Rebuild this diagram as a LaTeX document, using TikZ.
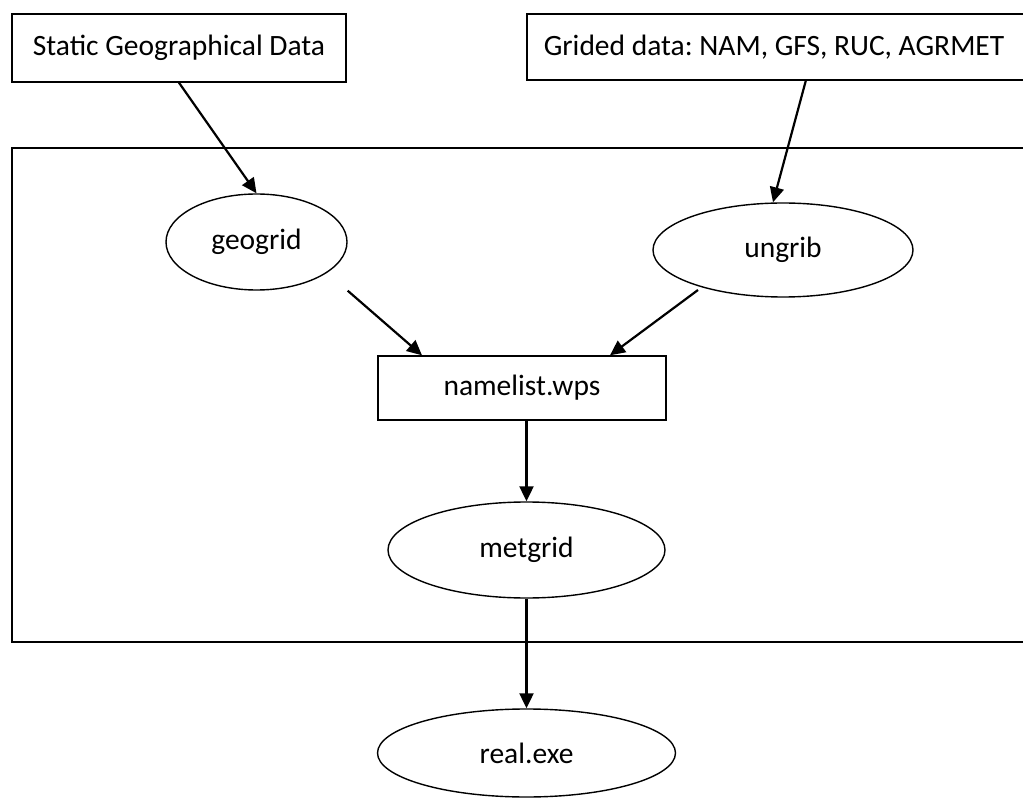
\documentclass[tikz,border=0pt]{standalone}
\usepackage{fontspec}
\setmainfont{Carlito}
\frenchspacing
\usetikzlibrary{shapes.geometric,arrows.meta}
\begin{document}
\begin{tikzpicture}[x=1pt,y=-1pt,
  every node/.style={font=\fontsize{29.5}{35}\selectfont},
  datbox/.style={draw,line width=1.4pt,rectangle,inner sep=0pt},
  proc/.style={draw,line width=1.4pt,ellipse,inner sep=0pt},
  flow/.style={line width=2.2pt,-{Triangle[length=15pt,width=14pt]}}]
\useasboundingbox (0,0) rectangle (1023,799);

% WPS container frame, running off the right side
\draw[line width=1.4pt] (1024,148) -- (12,148) -- (12,642) -- (1024,642);

% input data sources
\node[datbox,minimum width=334pt,minimum height=68pt] (box1) at (179,48) {Static Geographical Data};
\draw[line width=1.4pt] (1024,14) -- (527,14) -- (527,80) -- (1024,80);
\node (box2) at (774,47) {Grided data: NAM, GFS, RUC, AGRMET};
\coordinate (b2s) at (806,80);

% programs
\node[proc,minimum width=181pt,minimum height=96pt] (geo) at (256.5,242) {geogrid};
\node[proc,minimum width=260pt,minimum height=94pt] (ung) at (783,250) {ungrib};
\node[datbox,minimum width=288pt,minimum height=64pt] (nl) at (522,388) {namelist.wps};
\node[proc,minimum width=277pt,minimum height=96pt] (met) at (526.5,550) {metgrid};
\node[proc,minimum width=298pt,minimum height=88pt] (real) at (526.5,753) {real.exe};
\coordinate (u1) at ([xshift=-85pt,yshift=-40pt]ung.center);

% data flow
\draw[flow] (box1.south) -- (geo.north);
\draw[flow] (b2s) -- ([xshift=-10pt]ung.north);
\draw[flow] (geo.south -| geo.east) -- ([xshift=-100pt]nl.north);
\draw[flow] (u1) -- ([xshift=88pt]nl.north);
\draw[flow] (nl.south -| met.north) -- (met.north);
\draw[flow] (met.south) -- (real.north);
\end{tikzpicture}
\end{document}
